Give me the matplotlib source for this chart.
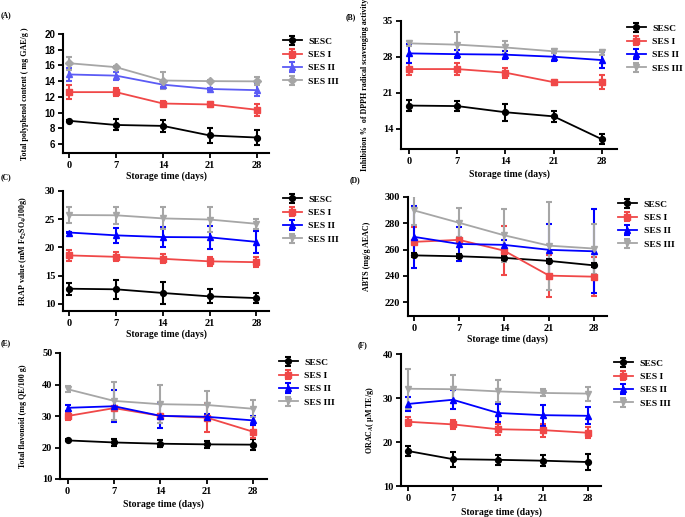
import matplotlib
matplotlib.use("Agg")
import matplotlib.pyplot as plt

days = [0, 7, 14, 21, 28]
series = ["SESC", "SES I", "SES II", "SES III"]

# (A) Total polyphenol content
A_mean = [[8.95, 8.42, 8.30, 7.08, 6.82],
          [12.60, 12.60, 11.15, 11.03, 10.35],
          [14.85, 14.70, 13.55, 13.00, 12.85],
          [16.28, 15.78, 14.08, 14.00, 13.97]]
A_err = [[0.05, 0.70, 0.80, 1.00, 0.95],
         [0.85, 0.55, 0.35, 0.30, 0.80],
         [0.85, 0.50, 0.30, 0.15, 0.80],
         [0.85, 0.10, 1.05, 0.10, 0.50]]
A_yticks = [6, 8, 10, 12, 14, 16, 18, 20]

# (B) DPPH
B_mean = [[18.55, 18.45, 17.25, 16.45, 12.00],
          [25.65, 25.65, 24.95, 23.10, 23.10],
          [28.70, 28.55, 28.45, 28.05, 27.40],
          [30.65, 30.40, 29.85, 29.10, 28.95]]
B_err = [[1.0, 1.0, 1.7, 1.1, 1.0],
         [1.2, 1.1, 0.95, 0.5, 1.4],
         [1.8, 0.8, 0.8, 0.8, 1.6],
         [0.5, 2.5, 1.3, 0.4, 0.5]]
B_yticks = [14, 21, 28, 35]

# (C) FRAP
C_mean = [[12.70, 12.60, 11.95, 11.35, 11.05],
          [18.60, 18.35, 18.00, 17.55, 17.40],
          [22.65, 22.15, 21.85, 21.80, 21.00],
          [25.75, 25.70, 25.15, 24.95, 24.20]]
C_err = [[1.1, 1.7, 2.0, 1.25, 0.95],
         [1.0, 0.8, 0.8, 0.75, 0.9],
         [0.15, 1.3, 1.7, 2.0, 2.0],
         [1.35, 1.5, 1.95, 2.25, 0.85]]
C_yticks = [10, 15, 20, 25, 30]

# (D) ABTS
D_mean = [[255.6, 254.9, 253.7, 251.4, 248.0],
          [265.9, 267.4, 259.2, 240.2, 239.4],
          [269.7, 264.3, 263.6, 259.8, 258.7],
          [289.8, 280.4, 270.9, 263.0, 260.8]]
D_err = [[1.5, 1.5, 1.5, 1.5, 1.5],
         [11.0, 2.0, 18.7, 16.0, 14.6],
         [23.6, 13.0, 4.0, 20.0, 32.0],
         [11.0, 11.0, 20.0, 33.5, 19.0]]
D_yticks = [220, 240, 260, 280, 300]

# (E) Total flavonoid
E_mean = [[22.25, 21.60, 21.20, 21.00, 20.90],
          [30.00, 32.50, 30.05, 29.50, 25.00],
          [32.60, 33.10, 30.05, 29.75, 28.60],
          [38.50, 34.80, 33.75, 33.50, 32.30]]
E_err = [[0.3, 1.0, 1.1, 1.1, 1.8],
         [1.2, 0.5, 0.5, 4.5, 2.0],
         [0.9, 5.0, 4.0, 1.0, 1.4],
         [1.0, 6.0, 6.0, 4.5, 2.7]]
E_yticks = [10, 20, 30, 40, 50]

# (F) ORAC
F_mean = [[17.95, 16.10, 15.95, 15.75, 15.45],
          [24.60, 24.00, 22.90, 22.70, 22.10],
          [28.65, 29.60, 26.60, 26.10, 25.95],
          [32.10, 32.00, 31.50, 31.15, 31.00]]
F_err = [[1.2, 1.7, 1.1, 1.2, 1.8],
         [1.0, 1.1, 1.2, 1.5, 1.3],
         [1.6, 2.2, 2.0, 2.4, 1.9],
         [4.5, 3.2, 2.5, 0.8, 1.6]]
F_yticks = [10, 20, 30, 40]

ylabels = ["Total polyphenol content ( mg GAE/g )",
           "Inhibition %  of DPPH radical scavenging activity",
           r"FRAP value (mM Fe$_\mathbf{2}$SO$_\mathbf{4}$/100g)",
           "ABTS (mg/g AEAC)",
           "Total flavonoid (mg QE/100 g)",
           r"ORAC$_\mathbf{A}$( $\mathbf{\mu}$M TE/g)"]
panel_tags = ["(A)", "(B)", "(C)", "(D)", "(E)", "(F)"]

SERIF = "Liberation Serif"
plt.rcParams["mathtext.fontset"] = "custom"
plt.rcParams["mathtext.rm"] = "Liberation Serif:bold"
plt.rcParams["mathtext.bf"] = "Liberation Serif:bold"
plt.rcParams["mathtext.it"] = "Liberation Serif:bold"

fig = plt.figure(figsize=(6.85, 5.17), dpi=100)
W, H = 685.0, 517.0

def rect(l, t, r, b):
    return [l / W, 1 - b / H, (r - l) / W, (b - t) / H]

RED = "#f04848"
GRAY = "#a6a6a6"
panels = [
    dict(mean=A_mean, err=A_err, yt=A_yticks, box=(63, 34, 269, 153), xl=(-0.89, 29.8), yl=(4.85, 20),
         colors=["black", RED, "#5b5bf5", GRAY], markers=["o", "s", "^", "D"],
         leg=(283, 37), tag=(1, 15), ticksans=True, ylc=-0.165, xlc=-0.151),
    dict(mean=B_mean, err=B_err, yt=B_yticks, box=(401, 21, 617, 149), xl=(-1.16, 30.2), yl=(10.1, 35),
         colors=["black", RED, "#0000ff", GRAY], markers=["o", "s", "^", "v"],
         leg=(627, 24), tag=(346, 17), ticksans=False, ylc=-0.148, xlc=-0.156),
    dict(mean=C_mean, err=C_err, yt=C_yticks, box=(63, 191, 269, 311), xl=(-0.95, 29.9), yl=(8.76, 30),
         colors=["black", RED, "#0000ff", GRAY], markers=["o", "s", "^", "v"],
         leg=(283, 195), tag=(1, 177), ticksans=False, ylc=-0.165, xlc=-0.15),
    dict(mean=D_mean, err=D_err, yt=D_yticks, box=(408, 197, 607, 316), xl=(-0.93, 30.0), yl=(209.5, 300),
         colors=["black", RED, "#0000ff", GRAY], markers=["o", "s", "^", "v"],
         leg=(618, 200), tag=(350, 180), ticksans=False, ylc=-0.186, xlc=-0.151),
    dict(mean=E_mean, err=E_err, yt=E_yticks, box=(60, 353, 267, 479), xl=(-1.16, 30.1), yl=(10, 50),
         colors=["black", RED, "#0000ff", GRAY], markers=["o", "s", "^", "v"],
         leg=(279, 358), tag=(1, 343), ticksans=False, ylc=-0.159, xlc=-0.159),
    dict(mean=F_mean, err=F_err, yt=F_yticks, box=(401, 354, 601, 486), xl=(-1.1, 30.06), yl=(10, 40),
         colors=["black", RED, "#0000ff", GRAY], markers=["o", "s", "^", "v"],
         leg=(614, 359), tag=(358, 345), ticksans=False, ylc=-0.125, xlc=-0.16),
]

for i, p in enumerate(panels):
    ax = fig.add_axes(rect(*p["box"]))
    for k, name in enumerate(series):
        ax.errorbar(days, p["mean"][k], yerr=p["err"][k], color=p["colors"][k],
                    marker=p["markers"][k], markersize=4.2, linewidth=1.3,
                    elinewidth=1.5, capsize=2.2, capthick=1.5, label=name)
    ax.set_xlim(*p["xl"])
    ax.set_ylim(*p["yl"])
    ax.set_xticks(days)
    ax.set_yticks(p["yt"])
    for s in ["top", "right"]:
        ax.spines[s].set_visible(False)
    for s in ["left", "bottom"]:
        ax.spines[s].set_linewidth(1.5)
    ax.tick_params(direction="out", length=3.5, width=1.3, pad=2)
    tick_family = "Liberation Sans" if p["ticksans"] else SERIF
    for lab in ax.get_xticklabels():
        lab.set_fontfamily(SERIF)
        lab.set_fontweight("bold")
        lab.set_fontsize(7.5)
    for lab in ax.get_yticklabels():
        lab.set_fontfamily(tick_family)
        lab.set_fontweight("bold")
        lab.set_fontsize(7 if p["ticksans"] else 7.5)
    ax.set_xlabel("Storage time (days)", fontfamily=SERIF, fontweight="bold", fontsize=7)
    ax.xaxis.set_label_coords(0.5, p["xlc"])
    ax.set_ylabel(ylabels[i], fontfamily=SERIF, fontweight="bold", fontsize=5.8)
    ax.yaxis.set_label_coords(p["ylc"], 0.5)
    lx, ly = p["leg"]
    ax.legend(loc="upper left", bbox_to_anchor=(lx / W, 1 - ly / H), bbox_transform=fig.transFigure,
              frameon=False, borderpad=0, borderaxespad=0, handlelength=2.0, handletextpad=0.7,
              labelspacing=0.5, prop=dict(family=SERIF, weight="bold", size=6.8))
    tx, ty = p["tag"]
    fig.text(tx / W, 1 - ty / H, panel_tags[i], fontfamily=SERIF, fontweight="bold", fontsize=5.5,
             ha="left", va="center")

fig.savefig("out.png", dpi=100)
